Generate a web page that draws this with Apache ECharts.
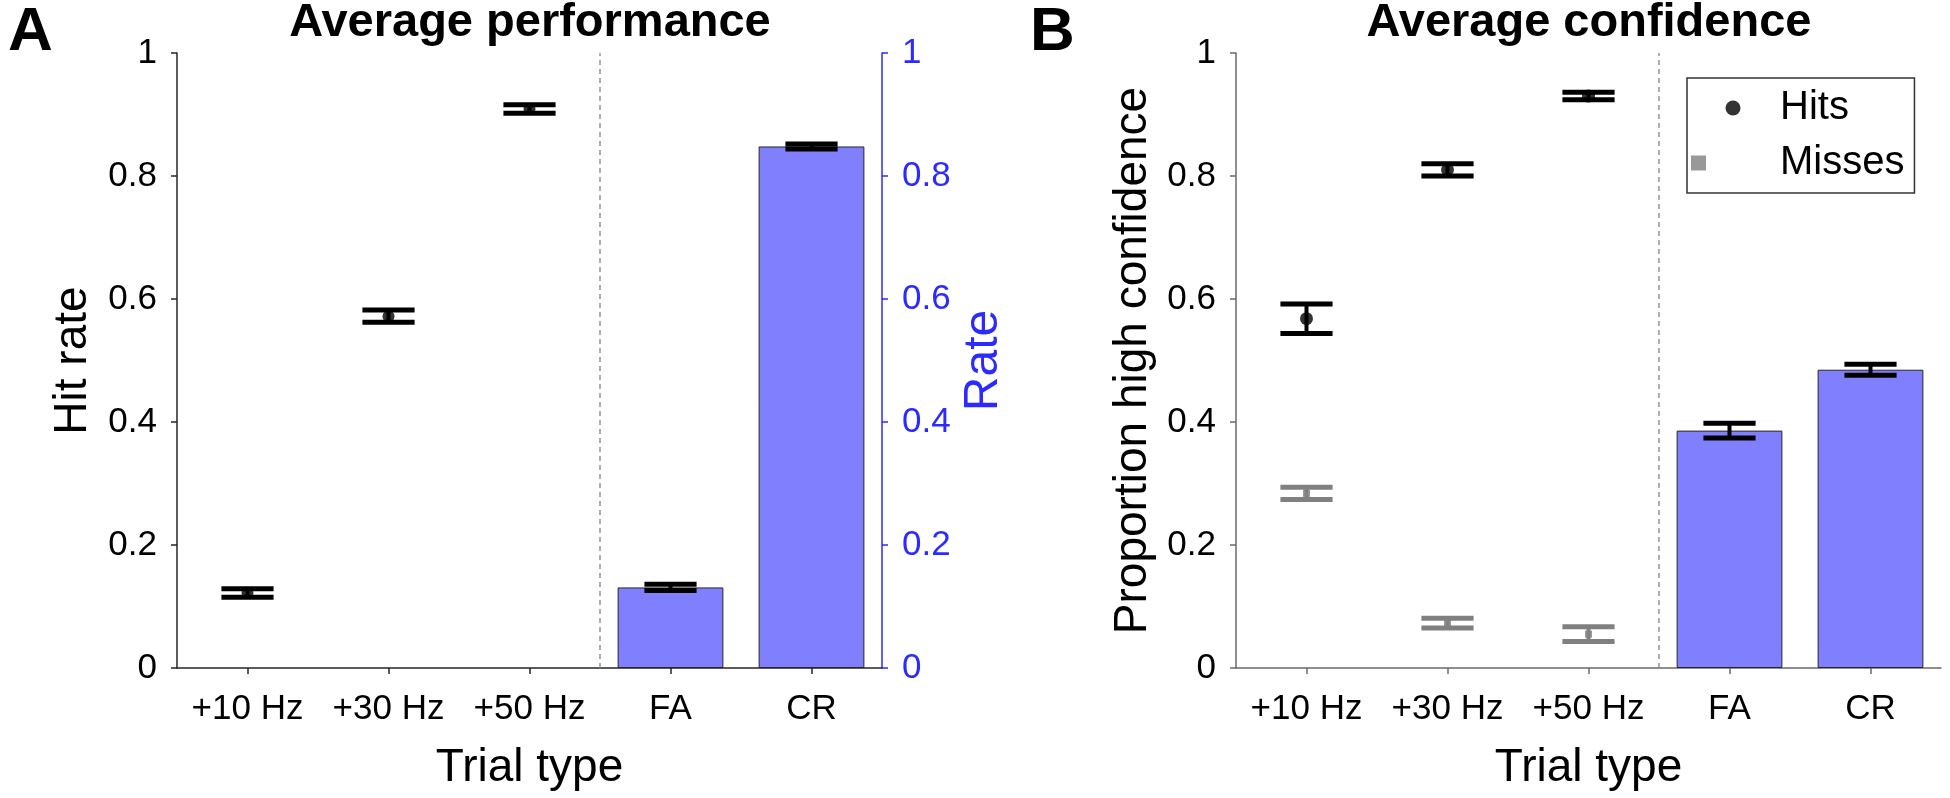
<!DOCTYPE html>
<html>
<head>
<meta charset="utf-8">
<script src="https://cdn.jsdelivr.net/npm/echarts@6/dist/echarts.min.js"></script>
<style>
html,body{margin:0;padding:0;background:#fff;}
#chart{width:1950px;height:798px;}
</style>
</head>
<body>
<div id="chart"></div>
<script>
// ---------- data ----------
const categories = ['+10 Hz', '+30 Hz', '+50 Hz', 'FA', 'CR'];
const yTicks = [0, 0.2, 0.4, 0.6, 0.8, 1];

// Panel A: Average performance
const perfHitMean = [0.122, 0.572, 0.909];
const perfHitErr  = [0.007, 0.010, 0.007];
const perfBarMean = [null, null, null, 0.131, 0.848];
const perfBarErr  = [null, null, null, 0.005, 0.004];

// Panel B: Average confidence
const confHitMean  = [0.568, 0.810, 0.930];
const confHitErr   = [0.024, 0.010, 0.006];
const confMissMean = [0.284, 0.073, 0.055];
const confMissErr  = [0.010, 0.008, 0.012];
const confBarMean  = [null, null, null, 0.386, 0.485];
const confBarErr   = [null, null, null, 0.012, 0.009];

// divider sits at the left edge of this category
const dividerCategory = 3;

// ---------- helpers ----------
const FONT = "'Liberation Sans', Arial, Helvetica, sans-serif";
const BLUE = '#2b2bff';
const BAR = '#8080ff';
const GRAY = '#808080';

function pad5(arr) { const o = arr.slice(); while (o.length < 5) o.push(null); return o; }
function errData(mean, err) {
  const out = [];
  for (let i = 0; i < mean.length; i++) {
    if (mean[i] != null) out.push([i, mean[i], err[i]]);
  }
  return out;
}
function errRender(color, capFrac, lw) {
  return function (params, api) {
    const x = api.value(0), m = api.value(1), e = api.value(2);
    const top = api.coord([x, m + e]);
    const bot = api.coord([x, m - e]);
    const half = api.size([1, 0])[0] * capFrac / 2;
    const style = { stroke: color, lineWidth: lw, fill: null };
    return {
      type: 'group',
      children: [
        { type: 'line', shape: { x1: top[0], y1: top[1], x2: bot[0], y2: bot[1] }, style: { stroke: color, lineWidth: lw - 1, fill: null } },
        { type: 'line', shape: { x1: top[0] - half, y1: top[1], x2: top[0] + half, y2: top[1] }, style: style },
        { type: 'line', shape: { x1: bot[0] - half, y1: bot[1], x2: bot[0] + half, y2: bot[1] }, style: style }
      ]
    };
  };
}
function dividerRender(params, api) {
  const c = api.value(0);
  const p0 = api.coord([c, 0]);
  const p1 = api.coord([c, 1]);
  const x = p0[0] - api.size([1, 0])[0] / 2;
  return {
    type: 'line',
    shape: { x1: x, y1: p0[1], x2: x, y2: p1[1] },
    style: { stroke: '#8c8c8c', lineWidth: 1.4, lineDash: [5, 4] }
  };
}
function yAxisBase(gridIndex, lineColor, textColor, position, name, nameGap, nameSize) {
  return {
    type: 'value', gridIndex: gridIndex, position: position,
    min: yTicks[0], max: yTicks[yTicks.length - 1], interval: yTicks[1] - yTicks[0],
    name: name, nameLocation: 'middle', nameGap: nameGap, nameRotate: 90,
    nameTextStyle: { fontFamily: FONT, fontSize: nameSize, color: textColor, align: 'center', verticalAlign: 'middle' },
    axisLine: { show: true, lineStyle: { color: lineColor, width: 1.5 } },
    axisTick: { show: true, inside: false, length: 6, lineStyle: { color: lineColor, width: 1.5 } },
    axisLabel: { fontFamily: FONT, fontSize: 35, color: textColor, margin: 20 },
    splitLine: { show: false }
  };
}
function xAxisBase(gridIndex, color) {
  return {
    type: 'category', gridIndex: gridIndex, data: categories,
    name: 'Trial type', nameLocation: 'middle', nameGap: 100,
    nameTextStyle: { fontFamily: FONT, fontSize: 46, color: '#000', verticalAlign: 'middle' },
    axisLine: { show: true, onZero: false, lineStyle: { color: color, width: 1.5 } },
    axisTick: { show: true, inside: false, alignWithLabel: true, length: 6, lineStyle: { color: color, width: 1.5 } },
    axisLabel: { fontFamily: FONT, fontSize: 35, color: '#000', margin: 24, interval: 0 },
    splitLine: { show: false }
  };
}

const chart = echarts.init(document.getElementById('chart'), null, { renderer: 'canvas' });

const option = {
  backgroundColor: '#fff',
  animation: false,
  title: [
    { text: 'A', left: 8, top: 2, padding: 0, textStyle: { fontFamily: FONT, fontSize: 62, fontWeight: 'bold', color: '#000' } },
    { text: 'B', left: 1030, top: 2, padding: 0, textStyle: { fontFamily: FONT, fontSize: 62, fontWeight: 'bold', color: '#000' } },
    { text: 'Average performance', left: 530, top: 0, textAlign: 'center', padding: 0, textStyle: { fontFamily: FONT, fontSize: 47, fontWeight: 'bold', color: '#000' } },
    { text: 'Average confidence', left: 1589, top: 0, textAlign: 'center', padding: 0, textStyle: { fontFamily: FONT, fontSize: 47, fontWeight: 'bold', color: '#000' } }
  ],
  legend: {
    data: [{ name: 'Hits', icon: 'circle' }, { name: 'Misses', icon: 'square' }],
    orient: 'vertical', left: 1687, top: 78,
    padding: [10, 10, 10, 4], itemGap: 15, itemWidth: 84, itemHeight: 15,
    borderColor: '#333', borderWidth: 1.5, backgroundColor: '#fff',
    textStyle: { fontFamily: FONT, fontSize: 40, color: '#000' },
    selectedMode: false
  },
  grid: [
    { left: 177, top: 53, width: 705, height: 615, containLabel: false },
    { left: 1236, top: 53, width: 705, height: 615, containLabel: false }
  ],
  xAxis: [xAxisBase(0, '#262626'), xAxisBase(1, '#6a6a6a')],
  yAxis: [
    yAxisBase(0, '#262626', '#000', 'left', 'Hit rate', 104, 46),
    yAxisBase(0, BLUE, BLUE, 'right', 'Rate', 102, 48),
    yAxisBase(1, '#6a6a6a', '#000', 'left', 'Proportion high confidence', 103, 46)
  ],
  series: [
    // ---- Panel A ----
    { type: 'bar', name: 'Rate bars', xAxisIndex: 0, yAxisIndex: 1, data: perfBarMean, barWidth: '75%',
      itemStyle: { color: BAR, borderColor: '#262626', borderWidth: 1 }, z: 2 },
    { type: 'custom', name: 'divA', xAxisIndex: 0, yAxisIndex: 0, data: [[dividerCategory]], renderItem: dividerRender, z: 1, silent: true },
    { type: 'custom', name: 'errA hits', xAxisIndex: 0, yAxisIndex: 0, data: errData(perfHitMean, perfHitErr),
      encode: { x: 0, y: 1 }, renderItem: errRender('#000', 0.37, 5), z: 3 },
    { type: 'custom', name: 'errA bars', xAxisIndex: 0, yAxisIndex: 1, data: errData(perfBarMean, perfBarErr),
      encode: { x: 0, y: 1 }, renderItem: errRender('#000', 0.37, 5), z: 3 },
    { type: 'scatter', name: 'Hit rate', xAxisIndex: 0, yAxisIndex: 0, data: pad5(perfHitMean),
      symbol: 'circle', symbolSize: 12, itemStyle: { color: '#000' }, z: 4 },
    // ---- Panel B ----
    { type: 'bar', name: 'Conf bars', xAxisIndex: 1, yAxisIndex: 2, data: confBarMean, barWidth: '75%',
      itemStyle: { color: BAR, borderColor: '#262626', borderWidth: 1 }, z: 2 },
    { type: 'custom', name: 'divB', xAxisIndex: 1, yAxisIndex: 2, data: [[dividerCategory]], renderItem: dividerRender, z: 1, silent: true },
    { type: 'custom', name: 'errB hits', xAxisIndex: 1, yAxisIndex: 2, data: errData(confHitMean, confHitErr),
      encode: { x: 0, y: 1 }, renderItem: errRender('#000', 0.37, 5), z: 3 },
    { type: 'custom', name: 'errB misses', xAxisIndex: 1, yAxisIndex: 2, data: errData(confMissMean, confMissErr),
      encode: { x: 0, y: 1 }, renderItem: errRender(GRAY, 0.37, 5), z: 3 },
    { type: 'custom', name: 'errB bars', xAxisIndex: 1, yAxisIndex: 2, data: errData(confBarMean, confBarErr),
      encode: { x: 0, y: 1 }, renderItem: errRender('#000', 0.37, 5), z: 3 },
    { type: 'scatter', name: 'Hits', xAxisIndex: 1, yAxisIndex: 2, data: pad5(confHitMean),
      symbol: 'circle', symbolSize: 13, itemStyle: { color: '#000' }, z: 4 },
    { type: 'scatter', name: 'Misses', xAxisIndex: 1, yAxisIndex: 2, data: pad5(confMissMean),
      symbol: 'square', symbolSize: 7, itemStyle: { color: GRAY }, z: 4 }
  ]
};
chart.setOption(option);
</script>
</body>
</html>
